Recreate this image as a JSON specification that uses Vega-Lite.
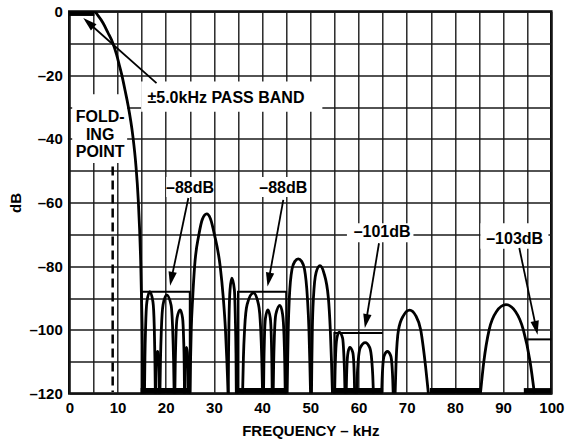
{
  "$schema": "https://vega.github.io/schema/vega-lite/v6.json",
  "width": 482,
  "height": 382,
  "autosize": {"type": "none"},
  "padding": {"left": 69.3, "top": 11.5, "right": 22.7, "bottom": 50.5},
  "background": "white",
  "config": {
    "view": {"stroke": "black", "strokeWidth": 2.5},
    "font": "Liberation Sans",
    "axis": {
      "grid": true, "gridColor": "#1a1a1a", "gridWidth": 1.4, "gridOpacity": 1,
      "domain": false, "ticks": false, "labelFlush": false,
      "labelFont": "Liberation Sans", "labelFontWeight": "bold", "labelFontSize": 15, "labelColor": "black",
      "titleFont": "Liberation Sans", "titleFontWeight": "bold", "titleFontSize": 15, "titleColor": "black"
    }
  },
  "datasets": {
    "curve": [
      {"s":0,"x":0,"y":0},{"s":0,"x":5.2,"y":0},{"s":0,"x":6.0,"y":-1.4},{"s":0,"x":7.0,"y":-3.6},{"s":0,"x":8.0,"y":-6.6},{"s":0,"x":9.0,"y":-9.8},{"s":0,"x":9.8,"y":-13.5},{"s":0,"x":10.4,"y":-17},{"s":0,"x":10.9,"y":-20},{"s":0,"x":11.6,"y":-25},{"s":0,"x":12.2,"y":-29.5},{"s":0,"x":13.2,"y":-39.3},{"s":0,"x":13.8,"y":-48},{"s":0,"x":14.3,"y":-59},{"s":0,"x":14.8,"y":-78},{"s":0,"x":15.1,"y":-98},{"s":0,"x":15.3,"y":-120},
      {"s":1,"x":15.6,"y":-120},{"s":1,"x":15.69,"y":-108.8},{"s":1,"x":15.83,"y":-99.2},{"s":1,"x":16.1,"y":-91.2},{"s":1,"x":16.7,"y":-88},{"s":1,"x":17.35,"y":-91.2},{"s":1,"x":17.63,"y":-99.2},{"s":1,"x":17.76,"y":-108.8},{"s":1,"x":17.85,"y":-120},
      {"s":2,"x":17.95,"y":-120},{"s":2,"x":17.98,"y":-115.4},{"s":2,"x":18.03,"y":-111.4},{"s":2,"x":18.12,"y":-108.1},{"s":2,"x":18.3,"y":-106.8},{"s":2,"x":18.54,"y":-108.1},{"s":2,"x":18.62,"y":-111.4},{"s":2,"x":18.67,"y":-115.4},{"s":2,"x":18.7,"y":-120},
      {"s":3,"x":18.8,"y":-120},{"s":3,"x":18.92,"y":-109.2},{"s":3,"x":19.1,"y":-99.9},{"s":3,"x":19.45,"y":-92.1},{"s":3,"x":20.2,"y":-89},{"s":3,"x":21.1,"y":-92.1},{"s":3,"x":21.45,"y":-99.9},{"s":3,"x":21.63,"y":-109.2},{"s":3,"x":21.75,"y":-120},
      {"s":4,"x":21.9,"y":-120},{"s":4,"x":21.98,"y":-110.8},{"s":4,"x":22.11,"y":-102.9},{"s":4,"x":22.36,"y":-96.3},{"s":4,"x":23.0,"y":-93.7},{"s":4,"x":23.5,"y":-96.3},{"s":4,"x":23.72,"y":-102.9},{"s":4,"x":23.84,"y":-110.8},{"s":4,"x":23.9,"y":-120},
      {"s":5,"x":23.95,"y":-120},{"s":5,"x":23.98,"y":-114.9},{"s":5,"x":24.02,"y":-110.6},{"s":5,"x":24.1,"y":-107},{"s":5,"x":24.3,"y":-105.5},{"s":5,"x":24.5,"y":-107},{"s":5,"x":24.58,"y":-110.6},{"s":5,"x":24.62,"y":-114.9},{"s":5,"x":24.65,"y":-120},
      {"s":6,"x":25.0,"y":-120},{"s":6,"x":25.15,"y":-110},{"s":6,"x":25.3,"y":-100},{"s":6,"x":25.6,"y":-90},{"s":6,"x":26.0,"y":-80},{"s":6,"x":26.9,"y":-70},{"s":6,"x":27.6,"y":-65.3},{"s":6,"x":28.5,"y":-63.6},{"s":6,"x":29.3,"y":-65.2},{"s":6,"x":30.1,"y":-70},{"s":6,"x":31.3,"y":-80},{"s":6,"x":31.95,"y":-90},{"s":6,"x":32.4,"y":-100},{"s":6,"x":32.7,"y":-110},{"s":6,"x":32.95,"y":-120},
      {"s":7,"x":32.98,"y":-120},{"s":7,"x":33.04,"y":-107.3},{"s":7,"x":33.14,"y":-96.5},{"s":7,"x":33.35,"y":-87.4},{"s":7,"x":33.72,"y":-83.8},{"s":7,"x":34.25,"y":-87.4},{"s":7,"x":34.45,"y":-96.5},{"s":7,"x":34.58,"y":-107.3},{"s":7,"x":34.65,"y":-120},
      {"s":8,"x":35.95,"y":-120},{"s":8,"x":36.12,"y":-108.9},{"s":8,"x":36.38,"y":-99.5},{"s":8,"x":36.9,"y":-92},{"s":8,"x":38.2,"y":-88.4},{"s":8,"x":39.25,"y":-92},{"s":8,"x":39.7,"y":-99.5},{"s":8,"x":39.93,"y":-108.9},{"s":8,"x":40.1,"y":-120},
      {"s":9,"x":40.3,"y":-120},{"s":9,"x":40.37,"y":-110.8},{"s":9,"x":40.48,"y":-102.9},{"s":9,"x":40.7,"y":-96.3},{"s":9,"x":41.2,"y":-93.7},{"s":9,"x":41.7,"y":-96.3},{"s":9,"x":41.92,"y":-102.9},{"s":9,"x":42.03,"y":-110.8},{"s":9,"x":42.1,"y":-120},
      {"s":10,"x":42.3,"y":-120},{"s":10,"x":42.4,"y":-110.3},{"s":10,"x":42.55,"y":-102},{"s":10,"x":42.85,"y":-95.1},{"s":10,"x":43.7,"y":-92.3},{"s":10,"x":44.25,"y":-95.1},{"s":10,"x":44.55,"y":-102},{"s":10,"x":44.7,"y":-110.3},{"s":10,"x":44.8,"y":-120},
      {"s":11,"x":45.2,"y":-120},{"s":11,"x":45.3,"y":-110},{"s":11,"x":45.42,"y":-100},{"s":11,"x":45.65,"y":-90},{"s":11,"x":46.2,"y":-81},{"s":11,"x":46.8,"y":-78.5},{"s":11,"x":47.5,"y":-77.7},{"s":11,"x":48.2,"y":-78.5},{"s":11,"x":48.8,"y":-81},{"s":11,"x":49.4,"y":-90},{"s":11,"x":49.72,"y":-100},{"s":11,"x":49.9,"y":-110},{"s":11,"x":50.05,"y":-120},
      {"s":12,"x":50.25,"y":-120},{"s":12,"x":50.32,"y":-110},{"s":12,"x":50.42,"y":-100},{"s":12,"x":50.65,"y":-90},{"s":12,"x":51.2,"y":-82},{"s":12,"x":52.0,"y":-79.8},{"s":12,"x":52.8,"y":-82},{"s":12,"x":53.75,"y":-90},{"s":12,"x":54.15,"y":-100},{"s":12,"x":54.4,"y":-110},{"s":12,"x":54.6,"y":-120},
      {"s":13,"x":55.05,"y":-120},{"s":13,"x":55.14,"y":-113.2},{"s":13,"x":55.26,"y":-107.5},{"s":13,"x":55.52,"y":-102.6},{"s":13,"x":56.0,"y":-100.7},{"s":13,"x":56.7,"y":-102.6},{"s":13,"x":56.95,"y":-107.5},{"s":13,"x":57.1,"y":-113.2},{"s":13,"x":57.2,"y":-120},
      {"s":14,"x":57.45,"y":-120},{"s":14,"x":57.52,"y":-114.9},{"s":14,"x":57.62,"y":-110.6},{"s":14,"x":57.84,"y":-107},{"s":14,"x":58.2,"y":-105.5},{"s":14,"x":58.8,"y":-107},{"s":14,"x":59.03,"y":-110.6},{"s":14,"x":59.13,"y":-114.9},{"s":14,"x":59.2,"y":-120},
      {"s":15,"x":59.6,"y":-120},{"s":15,"x":59.74,"y":-114.4},{"s":15,"x":59.95,"y":-109.6},{"s":15,"x":60.37,"y":-105.6},{"s":15,"x":61.4,"y":-104},{"s":15,"x":62.33,"y":-105.6},{"s":15,"x":62.75,"y":-109.6},{"s":15,"x":62.96,"y":-114.4},{"s":15,"x":63.1,"y":-120},
      {"s":16,"x":64.8,"y":-120},{"s":16,"x":64.9,"y":-115.4},{"s":16,"x":65.04,"y":-111.4},{"s":16,"x":65.33,"y":-108.1},{"s":16,"x":66.0,"y":-106.8},{"s":16,"x":66.67,"y":-108.1},{"s":16,"x":66.96,"y":-111.4},{"s":16,"x":67.1,"y":-115.4},{"s":16,"x":67.2,"y":-120},
      {"s":17,"x":67.6,"y":-120},{"s":17,"x":67.8,"y":-110},{"s":17,"x":68.3,"y":-100},{"s":17,"x":69.3,"y":-95.6},{"s":17,"x":70.6,"y":-93.8},{"s":17,"x":71.9,"y":-95.6},{"s":17,"x":72.9,"y":-100},{"s":17,"x":73.8,"y":-110},{"s":17,"x":74.5,"y":-120},
      {"s":18,"x":85.3,"y":-120},{"s":18,"x":86.0,"y":-110},{"s":18,"x":87.1,"y":-100},{"s":18,"x":88.6,"y":-94.3},{"s":18,"x":90.6,"y":-92.1},{"s":18,"x":92.6,"y":-94.3},{"s":18,"x":94.2,"y":-100},{"s":18,"x":95.6,"y":-110},{"s":18,"x":96.5,"y":-120}
    ],
    "boxes": [
      {"b":1,"i":1,"x":15,"y":-120},{"b":1,"i":2,"x":15,"y":-88},{"b":1,"i":3,"x":25,"y":-88},{"b":1,"i":4,"x":25,"y":-120},
      {"b":2,"i":1,"x":35,"y":-120},{"b":2,"i":2,"x":35,"y":-88},{"b":2,"i":3,"x":45,"y":-88},{"b":2,"i":4,"x":45,"y":-120},
      {"b":3,"i":1,"x":55,"y":-120},{"b":3,"i":2,"x":55,"y":-101},{"b":3,"i":3,"x":65,"y":-101},
      {"b":4,"i":1,"x":95,"y":-103},{"b":4,"i":2,"x":100,"y":-103}
    ],
    "stopbars": [
      {"x1":14.8,"x2":25.0},{"x1":34.4,"x2":44.9},{"x1":54.8,"x2":65.1},{"x1":74.8,"x2":85.2},{"x1":94.3,"x2":100}
    ],
    "passbar": [{"x1":0,"x2":5.2}],
    "backs": [
      {"x1":14.9,"x2":52.5,"y1":-22,"y2":-31.5},
      {"x1":0.6,"x2":12.0,"y1":-26,"y2":-47.6},
      {"x1":20.1,"x2":29.9,"y1":-52,"y2":-58.3},
      {"x1":39.3,"x2":49.4,"y1":-52,"y2":-58.3},
      {"x1":57.6,"x2":71.4,"y1":-66.5,"y2":-72.5},
      {"x1":85.3,"x2":99.4,"y1":-66.5,"y2":-74.5}
    ],
    "fold": [{"x":9.0,"y1":-48.7,"y2":-119.5}],
    "arrows": [
      {"a":1,"x1":18.1,"y1":-22.5,"x2":3.98,"y2":-3.52},
      {"a":2,"x1":24.7,"y1":-58.6,"x2":21.18,"y2":-84.0},
      {"a":3,"x1":44.4,"y1":-59.2,"x2":41.39,"y2":-84.2},
      {"a":4,"x1":64.25,"y1":-72.8,"x2":61.58,"y2":-97.3},
      {"a":5,"x1":93.36,"y1":-74.3,"x2":96.85,"y2":-99.4}
    ],
    "labels": [
      {"t":"±5.0kHz PASS BAND","x":32.5,"y":-27.1},
      {"t":"FOLD-\nING\nPOINT","x":6.4,"y":-33.2},
      {"t":"–88dB","x":25.04,"y":-55.5},
      {"t":"–88dB","x":44.4,"y":-55.5},
      {"t":"–101dB","x":64.9,"y":-69.2},
      {"t":"–103dB","x":92.4,"y":-71.4}
    ]
  },
  "layer": [
    {
      "data": {"name": "backs"},
      "mark": {"type": "rect", "fill": "white", "stroke": null},
      "encoding": {
        "x": {"field": "x1", "type": "quantitative", "scale": {"domain": [0, 100], "nice": false, "zero": false}, "title": "FREQUENCY – kHz",
          "axis": {"values": [0,5,10,15,20,25,30,35,40,45,50,55,60,65,70,75,80,85,90,95,100], "labelExpr": "datum.value % 10 == 0 ? datum.label : ''", "labelPadding": 7, "titlePadding": 8}},
        "x2": {"field": "x2"},
        "y": {"field": "y1", "type": "quantitative", "scale": {"domain": [-120, 0], "nice": false, "zero": false}, "title": "dB",
          "axis": {"values": [-120,-110,-100,-90,-80,-70,-60,-50,-40,-30,-20,-10,0], "labelExpr": "datum.value % 20 == 0 ? (datum.value < 0 ? '–' + (-datum.value) : '0') : ''", "labelPadding": 7, "titlePadding": 5}},
        "y2": {"field": "y2"}
      }
    },
    {
      "data": {"name": "stopbars"},
      "mark": {"type": "rect", "fill": "black"},
      "encoding": {
        "x": {"field": "x1", "type": "quantitative", "title": "FREQUENCY – kHz",
          "axis": {"values": [0,5,10,15,20,25,30,35,40,45,50,55,60,65,70,75,80,85,90,95,100], "labelExpr": "datum.value % 10 == 0 ? datum.label : ''", "labelPadding": 7, "titlePadding": 8}},
        "x2": {"field": "x2"},
        "y": {"datum": -118.3, "type": "quantitative", "title": "dB",
          "axis": {"values": [-120,-110,-100,-90,-80,-70,-60,-50,-40,-30,-20,-10,0], "labelExpr": "datum.value % 20 == 0 ? (datum.value < 0 ? '–' + (-datum.value) : '0') : ''", "labelPadding": 7, "titlePadding": 5}},
        "y2": {"datum": -120}
      }
    },
    {
      "data": {"name": "passbar"},
      "mark": {"type": "rect", "fill": "black"},
      "encoding": {
        "x": {"field": "x1", "type": "quantitative", "title": "FREQUENCY – kHz",
          "axis": {"values": [0,5,10,15,20,25,30,35,40,45,50,55,60,65,70,75,80,85,90,95,100], "labelExpr": "datum.value % 10 == 0 ? datum.label : ''", "labelPadding": 7, "titlePadding": 8}},
        "x2": {"field": "x2"},
        "y": {"datum": 0, "type": "quantitative", "title": "dB",
          "axis": {"values": [-120,-110,-100,-90,-80,-70,-60,-50,-40,-30,-20,-10,0], "labelExpr": "datum.value % 20 == 0 ? (datum.value < 0 ? '–' + (-datum.value) : '0') : ''", "labelPadding": 7, "titlePadding": 5}},
        "y2": {"datum": -1.4}
      }
    },
    {
      "data": {"name": "boxes"},
      "mark": {"type": "line", "color": "black", "strokeWidth": 2},
      "encoding": {
        "x": {"field": "x", "type": "quantitative", "title": "FREQUENCY – kHz",
          "axis": {"values": [0,5,10,15,20,25,30,35,40,45,50,55,60,65,70,75,80,85,90,95,100], "labelExpr": "datum.value % 10 == 0 ? datum.label : ''", "labelPadding": 7, "titlePadding": 8}},
        "y": {"field": "y", "type": "quantitative", "title": "dB",
          "axis": {"values": [-120,-110,-100,-90,-80,-70,-60,-50,-40,-30,-20,-10,0], "labelExpr": "datum.value % 20 == 0 ? (datum.value < 0 ? '–' + (-datum.value) : '0') : ''", "labelPadding": 7, "titlePadding": 5}},
        "detail": {"field": "b"},
        "order": {"field": "i"}
      }
    },
    {
      "data": {"name": "curve"},
      "mark": {"type": "line", "color": "black", "strokeWidth": 2.8, "interpolate": "monotone", "clip": true},
      "encoding": {
        "x": {"field": "x", "type": "quantitative", "title": "FREQUENCY – kHz",
          "axis": {"values": [0,5,10,15,20,25,30,35,40,45,50,55,60,65,70,75,80,85,90,95,100], "labelExpr": "datum.value % 10 == 0 ? datum.label : ''", "labelPadding": 7, "titlePadding": 8}},
        "y": {"field": "y", "type": "quantitative", "title": "dB",
          "axis": {"values": [-120,-110,-100,-90,-80,-70,-60,-50,-40,-30,-20,-10,0], "labelExpr": "datum.value % 20 == 0 ? (datum.value < 0 ? '–' + (-datum.value) : '0') : ''", "labelPadding": 7, "titlePadding": 5}},
        "detail": {"field": "s"}
      }
    },
    {
      "data": {"name": "fold"},
      "mark": {"type": "rule", "color": "black", "strokeWidth": 2.5, "strokeDash": [9, 5]},
      "encoding": {
        "x": {"field": "x", "type": "quantitative", "title": "FREQUENCY – kHz",
          "axis": {"values": [0,5,10,15,20,25,30,35,40,45,50,55,60,65,70,75,80,85,90,95,100], "labelExpr": "datum.value % 10 == 0 ? datum.label : ''", "labelPadding": 7, "titlePadding": 8}},
        "y": {"field": "y1", "type": "quantitative", "title": "dB",
          "axis": {"values": [-120,-110,-100,-90,-80,-70,-60,-50,-40,-30,-20,-10,0], "labelExpr": "datum.value % 20 == 0 ? (datum.value < 0 ? '–' + (-datum.value) : '0') : ''", "labelPadding": 7, "titlePadding": 5}},
        "y2": {"field": "y2"}
      }
    },
    {
      "data": {"name": "arrows"},
      "mark": {"type": "rule", "color": "black", "strokeWidth": 1.8},
      "encoding": {
        "x": {"field": "x1", "type": "quantitative", "title": "FREQUENCY – kHz",
          "axis": {"values": [0,5,10,15,20,25,30,35,40,45,50,55,60,65,70,75,80,85,90,95,100], "labelExpr": "datum.value % 10 == 0 ? datum.label : ''", "labelPadding": 7, "titlePadding": 8}},
        "y": {"field": "y1", "type": "quantitative", "title": "dB",
          "axis": {"values": [-120,-110,-100,-90,-80,-70,-60,-50,-40,-30,-20,-10,0], "labelExpr": "datum.value % 20 == 0 ? (datum.value < 0 ? '–' + (-datum.value) : '0') : ''", "labelPadding": 7, "titlePadding": 5}},
        "x2": {"field": "x2"},
        "y2": {"field": "y2"}
      }
    },
    {
      "data": {"name": "arrows"},
      "transform": [{"filter": "datum.a == 1"}],
      "mark": {"type": "point", "shape": "M0,-1L0.6,1L-0.6,1Z", "filled": true, "color": "black", "opacity": 1, "size": 196, "angle": 311.5},
      "encoding": {
        "x": {"field": "x2", "type": "quantitative", "title": "FREQUENCY – kHz",
          "axis": {"values": [0,5,10,15,20,25,30,35,40,45,50,55,60,65,70,75,80,85,90,95,100], "labelExpr": "datum.value % 10 == 0 ? datum.label : ''", "labelPadding": 7, "titlePadding": 8}},
        "y": {"field": "y2", "type": "quantitative", "title": "dB",
          "axis": {"values": [-120,-110,-100,-90,-80,-70,-60,-50,-40,-30,-20,-10,0], "labelExpr": "datum.value % 20 == 0 ? (datum.value < 0 ? '–' + (-datum.value) : '0') : ''", "labelPadding": 7, "titlePadding": 5}}
      }
    },
    {
      "data": {"name": "arrows"},
      "transform": [{"filter": "datum.a >= 2 && datum.a <= 4"}],
      "mark": {"type": "point", "shape": "M0,-1L0.6,1L-0.6,1Z", "filled": true, "color": "black", "opacity": 1, "size": 196, "angle": 190.5},
      "encoding": {
        "x": {"field": "x2", "type": "quantitative", "title": "FREQUENCY – kHz",
          "axis": {"values": [0,5,10,15,20,25,30,35,40,45,50,55,60,65,70,75,80,85,90,95,100], "labelExpr": "datum.value % 10 == 0 ? datum.label : ''", "labelPadding": 7, "titlePadding": 8}},
        "y": {"field": "y2", "type": "quantitative", "title": "dB",
          "axis": {"values": [-120,-110,-100,-90,-80,-70,-60,-50,-40,-30,-20,-10,0], "labelExpr": "datum.value % 20 == 0 ? (datum.value < 0 ? '–' + (-datum.value) : '0') : ''", "labelPadding": 7, "titlePadding": 5}}
      }
    },
    {
      "data": {"name": "arrows"},
      "transform": [{"filter": "datum.a == 5"}],
      "mark": {"type": "point", "shape": "M0,-1L0.6,1L-0.6,1Z", "filled": true, "color": "black", "opacity": 1, "size": 196, "angle": 168.2},
      "encoding": {
        "x": {"field": "x2", "type": "quantitative", "title": "FREQUENCY – kHz",
          "axis": {"values": [0,5,10,15,20,25,30,35,40,45,50,55,60,65,70,75,80,85,90,95,100], "labelExpr": "datum.value % 10 == 0 ? datum.label : ''", "labelPadding": 7, "titlePadding": 8}},
        "y": {"field": "y2", "type": "quantitative", "title": "dB",
          "axis": {"values": [-120,-110,-100,-90,-80,-70,-60,-50,-40,-30,-20,-10,0], "labelExpr": "datum.value % 20 == 0 ? (datum.value < 0 ? '–' + (-datum.value) : '0') : ''", "labelPadding": 7, "titlePadding": 5}}
      }
    },
    {
      "data": {"name": "labels"},
      "mark": {"type": "text", "font": "Liberation Sans", "fontWeight": "bold", "fontSize": 16, "color": "black", "align": "center", "baseline": "middle", "lineBreak": "\n", "lineHeight": 17.5},
      "encoding": {
        "x": {"field": "x", "type": "quantitative", "title": "FREQUENCY – kHz",
          "axis": {"values": [0,5,10,15,20,25,30,35,40,45,50,55,60,65,70,75,80,85,90,95,100], "labelExpr": "datum.value % 10 == 0 ? datum.label : ''", "labelPadding": 7, "titlePadding": 8}},
        "y": {"field": "y", "type": "quantitative", "title": "dB",
          "axis": {"values": [-120,-110,-100,-90,-80,-70,-60,-50,-40,-30,-20,-10,0], "labelExpr": "datum.value % 20 == 0 ? (datum.value < 0 ? '–' + (-datum.value) : '0') : ''", "labelPadding": 7, "titlePadding": 5}},
        "text": {"field": "t"}
      }
    }
  ]
}
